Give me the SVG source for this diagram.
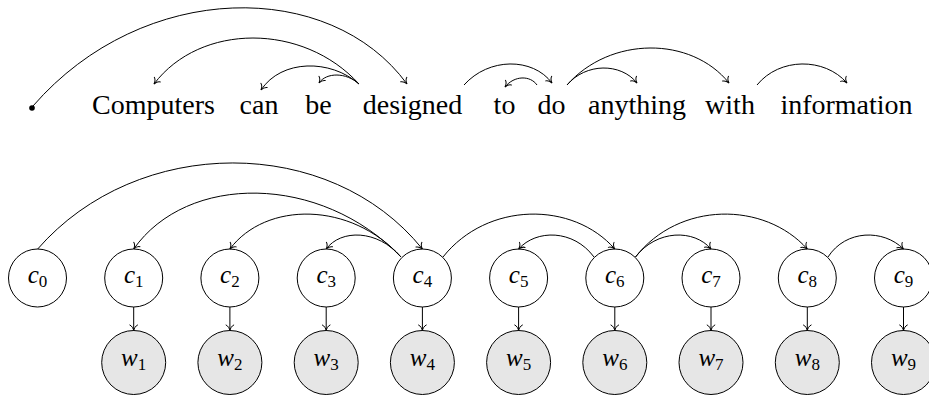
<svg xmlns="http://www.w3.org/2000/svg" width="929" height="399" viewBox="0 0 929 399">
<style>
.word{font-family:"Liberation Serif","Times New Roman",serif;font-size:28px;fill:#000;text-anchor:middle}
.lab{font-family:"Liberation Serif","Times New Roman",serif;font-size:25px;fill:#000;text-anchor:middle}
.lab .v{font-style:italic}
.lab .s{font-size:17px}
.cn{fill:#fff;stroke:#000;stroke-width:1}
.wn{fill:#e6e6e6;stroke:#000;stroke-width:1}
.e{fill:none;stroke:#000;stroke-width:1;marker-end:url(#arr)}
</style>
<defs>
<marker id="arr" viewBox="-7 -5 8 10" markerWidth="8" markerHeight="10" refX="0" refY="0" orient="auto" markerUnits="userSpaceOnUse">
<path d="M -5.5,-3.8 C -4.6,-1.6 -1.6,-0.35 0,0 C -1.6,0.35 -4.6,1.6 -5.5,3.8" fill="none" stroke="#000" stroke-width="1" stroke-linecap="round"/>
</marker>
</defs>
<rect width="929" height="399" fill="#fff"/>
<g id="top-words">
<g id="root"><circle cx="32" cy="108" r="2.8" fill="#000"/></g>
<g id="w-computers"><text class="word" x="153.5" y="114">Computers</text></g>
<g id="w-can"><text class="word" x="259" y="114">can</text></g>
<g id="w-be"><text class="word" x="318.5" y="114">be</text></g>
<g id="w-designed"><text class="word" x="412.5" y="114">designed</text></g>
<g id="w-to"><text class="word" x="504.5" y="114">to</text></g>
<g id="w-do"><text class="word" x="551.5" y="114">do</text></g>
<g id="w-anything"><text class="word" x="637" y="114">anything</text></g>
<g id="w-with"><text class="word" x="730" y="114">with</text></g>
<g id="w-information"><text class="word" x="846.5" y="114">information</text></g>
</g>
<g id="c-nodes">
<g id="c0"><circle class="cn" cx="37.5" cy="278" r="29"/><text class="lab" x="37.5" y="283"><tspan class="v">c</tspan><tspan class="s" dy="4">0</tspan></text></g>
<g id="c1"><circle class="cn" cx="133.7" cy="278" r="29"/><text class="lab" x="133.7" y="283"><tspan class="v">c</tspan><tspan class="s" dy="4">1</tspan></text></g>
<g id="c2"><circle class="cn" cx="229.9" cy="278" r="29"/><text class="lab" x="229.9" y="283"><tspan class="v">c</tspan><tspan class="s" dy="4">2</tspan></text></g>
<g id="c3"><circle class="cn" cx="326.2" cy="278" r="29"/><text class="lab" x="326.2" y="283"><tspan class="v">c</tspan><tspan class="s" dy="4">3</tspan></text></g>
<g id="c4"><circle class="cn" cx="422.4" cy="278" r="29"/><text class="lab" x="422.4" y="283"><tspan class="v">c</tspan><tspan class="s" dy="4">4</tspan></text></g>
<g id="c5"><circle class="cn" cx="518.6" cy="278" r="29"/><text class="lab" x="518.6" y="283"><tspan class="v">c</tspan><tspan class="s" dy="4">5</tspan></text></g>
<g id="c6"><circle class="cn" cx="614.8" cy="278" r="29"/><text class="lab" x="614.8" y="283"><tspan class="v">c</tspan><tspan class="s" dy="4">6</tspan></text></g>
<g id="c7"><circle class="cn" cx="711" cy="278" r="29"/><text class="lab" x="711" y="283"><tspan class="v">c</tspan><tspan class="s" dy="4">7</tspan></text></g>
<g id="c8"><circle class="cn" cx="807.3" cy="278" r="29"/><text class="lab" x="807.3" y="283"><tspan class="v">c</tspan><tspan class="s" dy="4">8</tspan></text></g>
<g id="c9"><circle class="cn" cx="903.5" cy="278" r="29"/><text class="lab" x="903.5" y="283"><tspan class="v">c</tspan><tspan class="s" dy="4">9</tspan></text></g>
</g>
<g id="w-nodes">
<g id="w1"><circle class="wn" cx="133.7" cy="362.5" r="32"/><text class="lab" x="133.7" y="365.5"><tspan class="v">w</tspan><tspan class="s" dy="4">1</tspan></text></g>
<g id="w2"><circle class="wn" cx="229.9" cy="362.5" r="32"/><text class="lab" x="229.9" y="365.5"><tspan class="v">w</tspan><tspan class="s" dy="4">2</tspan></text></g>
<g id="w3"><circle class="wn" cx="326.2" cy="362.5" r="32"/><text class="lab" x="326.2" y="365.5"><tspan class="v">w</tspan><tspan class="s" dy="4">3</tspan></text></g>
<g id="w4"><circle class="wn" cx="422.4" cy="362.5" r="32"/><text class="lab" x="422.4" y="365.5"><tspan class="v">w</tspan><tspan class="s" dy="4">4</tspan></text></g>
<g id="w5"><circle class="wn" cx="518.6" cy="362.5" r="32"/><text class="lab" x="518.6" y="365.5"><tspan class="v">w</tspan><tspan class="s" dy="4">5</tspan></text></g>
<g id="w6"><circle class="wn" cx="614.8" cy="362.5" r="32"/><text class="lab" x="614.8" y="365.5"><tspan class="v">w</tspan><tspan class="s" dy="4">6</tspan></text></g>
<g id="w7"><circle class="wn" cx="711" cy="362.5" r="32"/><text class="lab" x="711" y="365.5"><tspan class="v">w</tspan><tspan class="s" dy="4">7</tspan></text></g>
<g id="w8"><circle class="wn" cx="807.3" cy="362.5" r="32"/><text class="lab" x="807.3" y="365.5"><tspan class="v">w</tspan><tspan class="s" dy="4">8</tspan></text></g>
<g id="w9"><circle class="wn" cx="903.5" cy="362.5" r="32"/><text class="lab" x="903.5" y="365.5"><tspan class="v">w</tspan><tspan class="s" dy="4">9</tspan></text></g>
</g>
<g id="connectors">
<path class="e" d="M 33,106 C 143.5,-21 330.5,-21 407,84"/>
<path class="e" d="M 359,84 C 303.3,22.7 200.3,22.7 154,84"/>
<path class="e" d="M 359,84 C 330.5,59 281.5,59 261,90"/>
<path class="e" d="M 359,84 C 346.3,72.2 326.3,72.2 319,83"/>
<path class="e" d="M 464,85 C 488.7,57.3 532.7,57.3 552,83"/>
<path class="e" d="M 537,85 C 530.3,75.3 514.3,75.3 505,87"/>
<path class="e" d="M 567,85 C 585.8,62.7 620.8,62.7 637,83"/>
<path class="e" d="M 567,85 C 610.2,36 691.2,36 729,83"/>
<path class="e" d="M 757,85 C 779.5,57.3 824.5,57.3 847,83"/>
<path class="e" d="M 37.5,249.2 C 137.5,134.25 330,134.25 422.4,249"/>
<path class="e" d="M 401,257 C 320.3,173.2 187,173.2 133.7,249"/>
<path class="e" d="M 401,257 C 350.8,201.2 265.7,201.2 229.9,249"/>
<path class="e" d="M 401,257 C 377.5,229.2 340.7,229.2 326.2,249"/>
<path class="e" d="M 443,257 C 487.3,201.2 573.1,201.2 614.8,249"/>
<path class="e" d="M 594,257 C 573.4,229.2 536.2,229.2 518.6,249"/>
<path class="e" d="M 635.5,257 C 656.75,229.2 694.25,229.2 711,249"/>
<path class="e" d="M 635.5,257 C 679,201.2 764.3,201.2 807.3,249"/>
<path class="e" d="M 828,257 C 845.9,229.2 883.6,229.2 903.5,249"/>
<path class="e" d="M 133.7,307 L 133.7,330.5"/>
<path class="e" d="M 229.9,307 L 229.9,330.5"/>
<path class="e" d="M 326.2,307 L 326.2,330.5"/>
<path class="e" d="M 422.4,307 L 422.4,330.5"/>
<path class="e" d="M 518.6,307 L 518.6,330.5"/>
<path class="e" d="M 614.8,307 L 614.8,330.5"/>
<path class="e" d="M 711,307 L 711,330.5"/>
<path class="e" d="M 807.3,307 L 807.3,330.5"/>
<path class="e" d="M 903.5,307 L 903.5,330.5"/>
</g>
</svg>
